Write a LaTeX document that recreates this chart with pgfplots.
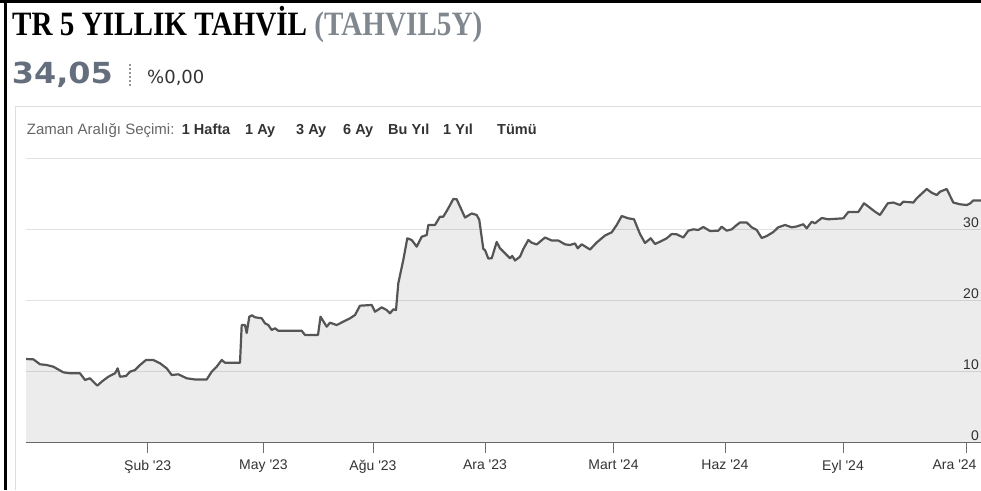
\documentclass[border=0pt]{standalone}
\usepackage{pgfplots}
\pgfplotsset{compat=1.18}
\usepackage{pgfplotstable}
\usepackage{fontspec}
\setmainfont{Liberation Sans}
\newfontfamily\titlefont{Liberation Serif}
\newfontfamily\djv{DejaVu Sans}
\definecolor{linegray}{RGB}{85,85,85}
\definecolor{gridgray}{RGB}{226,226,226}
\definecolor{axisgray}{RGB}{110,110,110}
\definecolor{tickcol}{RGB}{51,51,51}
\definecolor{valuecol}{RGB}{100,110,125}
\definecolor{codegray}{RGB}{128,135,142}
\definecolor{boxgray}{RGB}{222,222,222}
\definecolor{selgray}{RGB}{102,102,102}
\definecolor{sepgray}{RGB}{150,150,150}

\pgfplotstableread{
x v
26 11.77
33.3 11.73
40 11.03
46.7 10.93
53.3 10.69
63.3 9.90
70 9.76
80 9.76
85 8.82
90 9.06
93.3 8.58
97.3 8.02
101.7 8.58
108.3 9.28
115 9.76
117.7 10.46
120 9.28
126 9.38
130 9.99
135 10.22
140 10.93
146 11.63
153.3 11.63
160 11.17
166.7 10.46
171.7 9.52
178.3 9.62
186.7 9.06
195 8.89
206.7 8.89
211.7 9.99
216.7 10.69
221.7 11.63
225 11.25
240 11.25
241.7 16.55
245 16.55
246.7 15.43
249.3 17.72
252 17.92
255 17.64
261.7 17.50
265 16.79
268.3 16.55
271.7 15.85
275 16.09
278.3 15.74
301.7 15.74
305 15.15
318 15.15
320.5 17.72
326.7 16.32
330 16.88
336.7 16.55
343.3 17.02
350 17.50
355 17.96
360 19.27
371.7 19.37
375 18.42
381.7 19.04
386.7 18.66
390 18.20
393.3 18.76
396 18.66
398.3 22.42
403.3 25.70
407.3 28.75
411.7 28.51
416.7 27.57
421.7 28.97
426.7 29.21
428.3 30.62
435 30.62
440 31.79
443.3 31.79
448.3 32.97
453.3 34.28
456.7 34.23
465 31.67
471.7 32.24
476.7 32.03
479.3 31.32
483.3 27.24
485 27.10
488.3 25.91
491.7 25.94
496.7 28.23
500 27.34
505 26.64
510 25.94
512.3 26.26
515 25.63
520 26.16
523.3 27.24
528.3 28.51
531.7 28.13
536.7 27.88
545 28.86
551.7 28.44
558.3 28.44
565 27.90
570 27.81
575 28.02
577.7 27.34
581.7 27.90
590 27.17
596.7 28.16
605 29.14
611.7 29.59
616.7 30.62
621.7 31.88
628.3 31.56
634 31.42
640 29.35
645 28.09
650.7 28.75
655 27.95
660 28.27
666.7 28.75
671.7 29.35
676.7 29.31
683.3 28.86
688.3 29.82
693.3 30.01
698.3 29.92
703.3 30.34
710 29.77
718.3 29.82
721.7 30.38
726.7 29.82
731.7 30.01
736.7 30.62
740 30.97
746.7 30.97
751.7 30.30
756.7 29.92
761.7 28.79
766.7 29.07
773.3 29.63
778.3 30.30
785 30.62
791.7 30.30
796.7 30.41
803.3 30.72
806.7 30.15
811.7 31.08
815 30.86
821.7 31.60
828.3 31.42
843.3 31.56
848.3 32.45
858.3 32.45
864 33.67
868.3 33.22
875 32.49
880 32.03
887.7 33.67
893.3 33.78
900 33.43
903.3 33.90
913.3 33.78
916.7 34.37
926.7 35.68
931.7 35.16
936.7 34.84
940 35.30
946.7 35.68
953.3 33.78
960 33.53
966.7 33.43
970 33.64
973.3 34.07
981 34.05
}\bonddata

\begin{document}
\begin{tikzpicture}
\useasboundingbox (0pt,0pt) rectangle (981pt,490pt);
% frame and box
\draw[black, line width=3pt] (5.3pt,0pt) -- (5.3pt,490pt);
\draw[black, line width=2.6pt] (0pt,488.7pt) -- (981pt,488.7pt);
\draw[boxgray, line width=1pt] (15pt,0pt) -- (15pt,383pt) -- (981pt,383pt);
% header
\node[anchor=base west, inner sep=0pt] at (12pt,454pt) {\scalebox{0.94}[1.1]{\titlefont\bfseries\fontsize{31}{31}\selectfont TR 5 YILLIK TAHVİL \textcolor{codegray}{(TAHVIL5Y)}}};
\node[anchor=base west, inner sep=0pt] at (11.7pt,406.7pt) {\scalebox{1.1}[1]{\djv\bfseries\fontsize{29}{29}\selectfont\color{valuecol}34,05}};
\draw[sepgray, line width=1.2pt, dash pattern=on 2pt off 2pt] (130pt,404pt) -- (130pt,427pt);
\node[anchor=base west, inner sep=0pt] at (147pt,406.7pt) {\djv\fontsize{18}{18}\selectfont\color{tickcol}\%0,00};
% range selector
\node[anchor=base west, inner sep=0pt, text=selgray, font=\fontsize{15}{16}\selectfont] at (26.7pt,355pt) {Zaman Aralığı Seçimi:};
\node[anchor=base west, inner sep=0pt, text=tickcol, font=\fontsize{14.5}{16}\selectfont\bfseries] at (181.7pt,355pt) {1 Hafta};
\node[anchor=base west, inner sep=0pt, text=tickcol, font=\fontsize{14.5}{16}\selectfont\bfseries] at (245pt,355pt) {1 Ay};
\node[anchor=base west, inner sep=0pt, text=tickcol, font=\fontsize{14.5}{16}\selectfont\bfseries] at (296pt,355pt) {3 Ay};
\node[anchor=base west, inner sep=0pt, text=tickcol, font=\fontsize{14.5}{16}\selectfont\bfseries] at (343pt,355pt) {6 Ay};
\node[anchor=base west, inner sep=0pt, text=tickcol, font=\fontsize{14.5}{16}\selectfont\bfseries] at (388pt,355pt) {Bu Yıl};
\node[anchor=base west, inner sep=0pt, text=tickcol, font=\fontsize{14.5}{16}\selectfont\bfseries] at (443pt,355pt) {1 Yıl};
\node[anchor=base west, inner sep=0pt, text=tickcol, font=\fontsize{14.5}{16}\selectfont\bfseries] at (497pt,355pt) {Tümü};
\begin{axis}[
  at={(26pt,47.3pt)}, anchor=south west,
  scale only axis, width=955pt, height=284.4pt,
  xmin=26, xmax=981, ymin=0, ymax=40,
  axis x line*=bottom, axis y line*=right,
  x axis line style={draw=axisgray, line width=1.5pt},
  y axis line style={draw=none},
  xtick={147.7,263.5,373,485,613.5,725,843,966.5},
  xticklabels={Şub \textquotesingle23, May \textquotesingle23, Ağu \textquotesingle23, Ara \textquotesingle23, Mart \textquotesingle24, Haz \textquotesingle24, Eyl \textquotesingle24, \makebox[0pt][r]{Ara \textquotesingle24\hspace{-10pt}}},
  ytick={0,10,20,30,40},
  yticklabels={0,10,20,30,{}},
  ymajorgrids, grid style={draw=gridgray, line width=1pt},
  tick align=outside, major tick length=10pt,
  xtick style={draw=axisgray, line width=1pt},
  ytick style={draw=none},
  ticklabel style={font=\fontsize{14}{16}\selectfont, text=tickcol},
  xticklabel style={inner sep=0pt, yshift=-7pt},
  yticklabel pos=right,
  yticklabel style={anchor=south east, inner sep=0pt, xshift=-12pt, yshift=2pt},
  /pgf/number format/assume math mode=true,
]
\addplot[draw=none, fill=black, fill opacity=0.075] table[x=x,y=v]{\bonddata} \closedcycle;
\addplot[linegray, line width=2.2pt, line join=round] table[x=x,y=v]{\bonddata};
\end{axis}
\end{tikzpicture}
\end{document}
